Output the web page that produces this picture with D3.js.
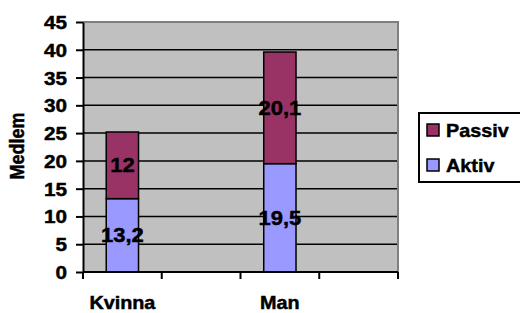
<!DOCTYPE html>
<html>
<head>
<meta charset="utf-8">
<script src="https://cdn.jsdelivr.net/npm/d3@7"></script>
<style>
  body { margin: 0; background: #fff; }
  svg { display: block; }
  svg text { font-family: "Liberation Sans", Arial, sans-serif; font-weight: 700; fill: #000; stroke: #000; stroke-width: 0.45px; }
</style>
</head>
<body>
<div id="chart"></div>
<script>
// data
const categories = ["Kvinna", "", "Man", ""];
const aktiv = [13.2, null, 19.5, null];
const passiv = [12, null, 20.1, null];
const seriesNames = ["Aktiv", "Passiv"];
const seriesColors = ["#9999ff", "#993366"];
const yTicks = [0, 5, 10, 15, 20, 25, 30, 35, 40, 45];
const yTitle = "Medlem";

const width = 520, height = 313;
const plot = { left: 83, top: 22, right: 398, bottom: 272 };
const sx = 1.15; // text in the source is a bit stretched horizontally

const svg = d3.select("#chart").append("svg")
  .attr("width", width)
  .attr("height", height);

const x = d3.scaleBand()
  .domain(d3.range(categories.length))
  .range([plot.left, plot.right]);
const barW = x.bandwidth() * 0.41;

const y = d3.scaleLinear().domain([0, 45]).range([plot.bottom, plot.top]);

const fmt = d3.formatLocale({ decimal: ",", thousands: " ", grouping: [3], currency: ["", ""] }).format("");

// plot area
svg.append("rect")
  .attr("x", plot.left).attr("y", plot.top)
  .attr("width", plot.right - plot.left).attr("height", plot.bottom - plot.top)
  .attr("fill", "#c0c0c0");

// gridlines
svg.append("g").selectAll("line")
  .data(yTicks.filter(t => t > 0 && t < 45))
  .join("line")
  .attr("x1", plot.left).attr("x2", plot.right)
  .attr("y1", d => y(d)).attr("y2", d => y(d))
  .attr("stroke", "#000").attr("stroke-width", 1.5);

// grey border top/right
svg.append("path")
  .attr("d", `M${plot.left},${plot.top}H${plot.right}V${plot.bottom}`)
  .attr("fill", "none").attr("stroke", "#808080").attr("stroke-width", 2);

// stacked bars
const rows = categories.map((c, i) => ({ i, Aktiv: aktiv[i] || 0, Passiv: passiv[i] || 0 }));
const stacked = d3.stack().keys(seriesNames)(rows);

const layers = svg.append("g").selectAll("g")
  .data(stacked)
  .join("g");

layers.selectAll("rect")
  .data(d => d.filter(p => p[1] > p[0]))
  .join("rect")
  .attr("x", d => x(d.data.i) + (x.bandwidth() - barW) / 2)
  .attr("y", d => y(d[1]))
  .attr("width", barW)
  .attr("height", d => y(d[0]) - y(d[1]))
  .attr("fill", function () { return seriesColors[seriesNames.indexOf(d3.select(this.parentNode).datum().key)]; })
  .attr("stroke", "#000")
  .attr("stroke-width", 1.5);

// axes
const yAxis = svg.append("g")
  .attr("transform", `translate(${plot.left},0)`)
  .call(d3.axisLeft(y).tickValues(yTicks).tickSize(7).tickSizeOuter(0));
yAxis.attr("font-family", null).attr("font-size", null);
yAxis.select(".domain").attr("stroke-width", 2);
yAxis.selectAll(".tick line").attr("stroke-width", 2);
yAxis.selectAll(".tick text")
  .attr("x", -16 / sx)
  .attr("dy", "0.36em")
  .attr("transform", `scale(${sx},1)`)
  .attr("font-size", 18);

const xAxis = svg.append("g")
  .attr("transform", `translate(0,${plot.bottom})`);
xAxis.append("line")
  .attr("x1", plot.left).attr("x2", plot.right)
  .attr("stroke", "#000").attr("stroke-width", 2);
xAxis.selectAll(".xt")
  .data(d3.range(categories.length + 1))
  .join("line")
  .attr("class", "xt")
  .attr("x1", i => i < categories.length ? x(i) : plot.right)
  .attr("x2", i => i < categories.length ? x(i) : plot.right)
  .attr("y1", 0).attr("y2", 7)
  .attr("stroke", "#000").attr("stroke-width", 2);
xAxis.selectAll(".xl")
  .data(categories.map((c, i) => ({ c, i })).filter(d => d.c))
  .join("text")
  .attr("class", "xl")
  .attr("transform", d => `translate(${x(d.i) + x.bandwidth() / 2},37) scale(1.1,1)`)
  .attr("text-anchor", "middle")
  .attr("font-size", 18)
  .text(d => d.c);

// value labels
layers.selectAll("text")
  .data(d => d.filter(p => p[1] > p[0]).map(p => ({ p, v: p[1] - p[0] })))
  .join("text")
  .attr("transform", d => `translate(${x(d.p.data.i) + x.bandwidth() / 2},${y((d.p[0] + d.p[1]) / 2) + 7}) scale(1.1,1)`)
  .attr("text-anchor", "middle")
  .attr("font-size", 20)
  .text(d => fmt(d.v));

// y title
svg.append("text")
  .attr("transform", `translate(24,146) scale(1.15,1) rotate(-90)`)
  .attr("text-anchor", "middle")
  .attr("font-size", 18)
  .text(yTitle);

// legend
const legend = svg.append("g").attr("transform", "translate(419,113)");
legend.append("rect")
  .attr("width", 130).attr("height", 69)
  .attr("fill", "#fff").attr("stroke", "#000").attr("stroke-width", 2);
const order = [1, 0];
legend.selectAll(".item")
  .data(order)
  .join("g")
  .attr("class", "item")
  .attr("transform", (k, j) => `translate(8,${11 + j * 35})`)
  .call(g => g.append("rect")
    .attr("width", 12).attr("height", 12)
    .attr("fill", k => seriesColors[k])
    .attr("stroke", "#000").attr("stroke-width", 1.5))
  .call(g => g.append("text")
    .attr("transform", "translate(19,13) scale(1.1,1)")
    .attr("font-size", 18)
    .text(k => seriesNames[k]));
</script>
</body>
</html>
